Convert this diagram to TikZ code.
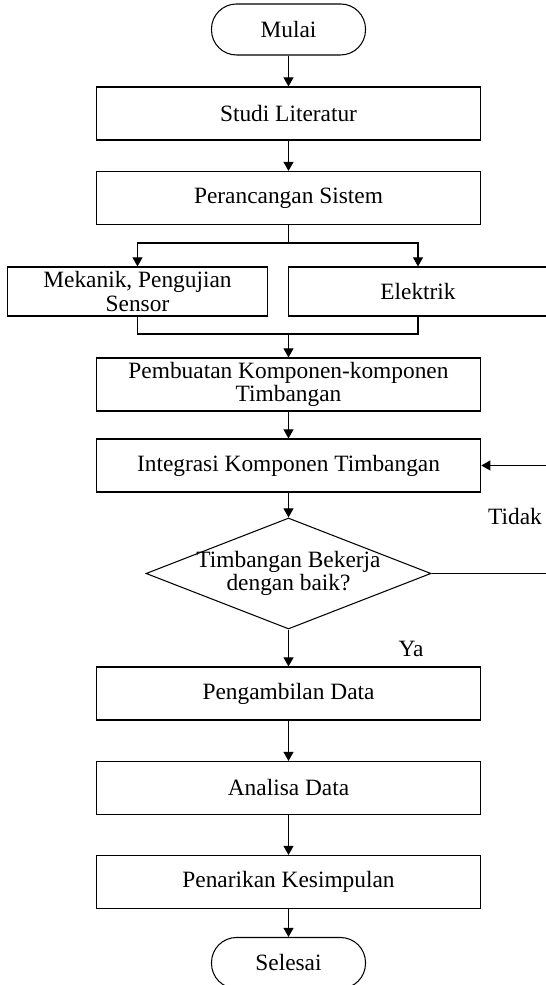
\documentclass[tikz,border=0pt]{standalone}
\usepackage{fontspec}
\setmainfont{Liberation Serif}
\usetikzlibrary{positioning}
\usetikzlibrary{shapes.geometric}
\usetikzlibrary{arrows.meta}

\begin{document}
\begin{tikzpicture}[
	font=\fontsize{13.3}{13.3}\selectfont,
	line width=0.6pt,
	proses/.style={draw, rectangle, minimum width=7.69cm, minimum height=1.06cm, align=center, inner sep=2pt},
	cabang/.style={draw, rectangle, minimum width=5.19cm, minimum height=0.98cm, align=center, inner sep=2pt},
	terminal/.style={draw, rounded corners=0.5cm, minimum width=3.08cm, minimum height=1.02cm},
	keputusan/.style={draw, diamond, minimum width=5.7cm, minimum height=2.22cm, inner sep=0pt, aspect=2.57},
	panah/.style={-{Triangle[length=5.2pt,width=5.7pt]}}
	]
	\useasboundingbox (0,0) rectangle (10.92,19.7);

	%Nodes
	\node[terminal]  (mulai)     at (5.77,19.11) {Mulai};
	\node[proses]    (studi)     at (5.77,17.43) {Studi Literatur};
	\node[proses]    (rancang)   at (5.77,15.74) {Perancangan Sistem};
	\coordinate      (pisah)     at (5.77,14.84);
	\node[cabang]    (mekanik)   at (2.75,13.87) {Mekanik, Pengujian\\Sensor};
	\node[cabang]    (elektrik)  at (8.36,13.87) {Elektrik};
	\coordinate      (gabung)    at (5.77,13.02);
	\node[proses]    (pembuatan) at (5.77,12.01) {Pembuatan Komponen-komponen\\Timbangan};
	\node[proses]    (integrasi) at (5.77,10.39) {Integrasi Komponen Timbangan};
	\node[keputusan] (cek)       at (5.77,8.23) {};
	\node[align=center] (cektext) at (cek) {Timbangan Bekerja\\dengan baik?};
	\node[proses]    (ambil)     at (5.77,5.83) {Pengambilan Data};
	\node[proses]    (analisa)   at (5.77,3.94) {Analisa Data};
	\node[proses]    (penarikan) at (5.77,2.06) {Penarikan Kesimpulan};
	\node[terminal]  (selesai)   at (5.77,0.44) {Selesai};
	\node            (tidak)     at (10.30,9.36) {Tidak};
	\node            (ya)        at (8.22,6.72) {Ya};
	\coordinate      (balik1)    at (11.0,8.23);
	\coordinate      (balik2)    at (11.0,10.39);

	%Lines
	\draw[panah] (mulai) -- (studi);
	\draw[panah] (studi) -- (rancang);
	\draw (rancang) -- (pisah);
	\draw[panah] (pisah) -| (mekanik);
	\draw[panah] (pisah) -| (elektrik);
	\draw (mekanik) |- (gabung);
	\draw (elektrik) |- (gabung);
	\draw[panah] (gabung) -- (pembuatan);
	\draw[panah] (pembuatan) -- (integrasi);
	\draw[panah] (integrasi) -- (cek);
	\draw[panah] (cek) -- (ambil);
	\draw[panah] (cek.east) -- (balik1) -- (balik2) -- (integrasi.east);
	\draw[panah] (ambil) -- (analisa);
	\draw[panah] (analisa) -- (penarikan);
	\draw[panah] (penarikan) -- (selesai);

\end{tikzpicture}
\end{document}
